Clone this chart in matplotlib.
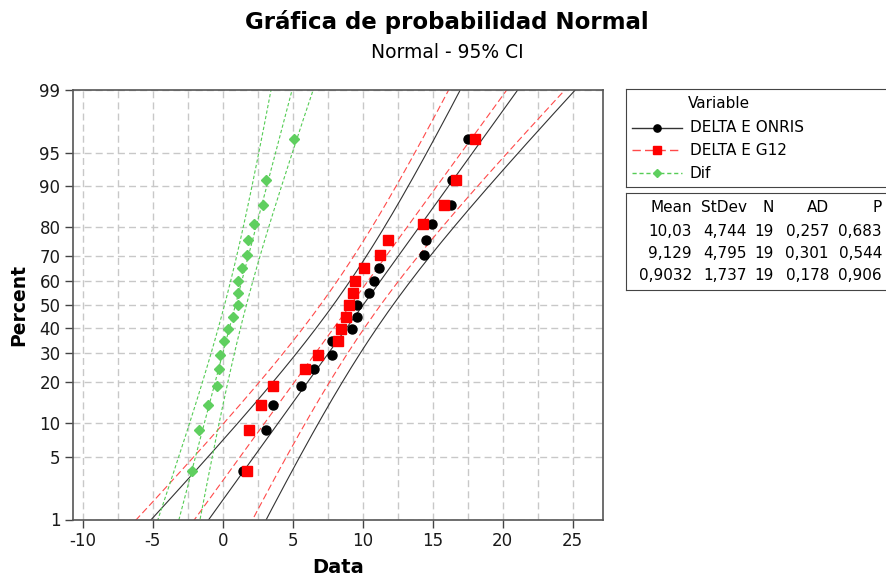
import numpy as np
import matplotlib
matplotlib.use("Agg")
import matplotlib.pyplot as plt
from matplotlib.ticker import FixedLocator, MultipleLocator
from statistics import NormalDist

plt.rcParams['font.family'] = ['DejaVu Sans']

# %% data (sorted values, n = 19 each)
onris = [1.43, 3.09, 3.61, 5.59, 6.48, 7.79, 7.83, 9.21, 9.59, 9.59,
         10.43, 10.81, 11.19, 14.40, 14.54, 14.93, 16.31, 16.36, 17.50]
g12 = [1.74, 1.83, 2.69, 3.61, 5.87, 6.77, 8.21, 8.43, 8.80, 9.02,
       9.29, 9.43, 10.07, 11.26, 11.83, 14.29, 15.83, 16.66, 18.02]
dif = [-2.19, -1.71, -1.03, -0.41, -0.31, -0.19, 0.11, 0.40, 0.71, 1.09,
       1.09, 1.09, 1.36, 1.69, 1.81, 2.19, 2.90, 3.09, 5.07]

names = ['DELTA E ONRIS', 'DELTA E G12', 'Dif']
means = [10.03, 9.129, 0.9032]
stdevs = [4.744, 4.795, 1.737]
ns = [19, 19, 19]
ads = [0.257, 0.301, 0.178]
pvals = [0.683, 0.544, 0.906]

pct_ticks = [1, 5, 10, 20, 30, 40, 50, 60, 70, 80, 90, 95, 99]
x_ticks = [-10, -5, 0, 5, 10, 15, 20, 25]

# %% styles
colors = ['black', '#ff0000', '#5fcf5f']
line_colors = ['#333333', '#ff4a4a', '#55cc55']
markers = ['o', 's', 'D']
msizes = [6.5, 7, 5.5]
dashes = [None, (6, 3), (3, 2)]

nd = NormalDist()
z_of = lambda p: nd.inv_cdf(p)

W, H = 887, 578
fig = plt.figure(figsize=(W / 100, H / 100), dpi=100)
ax = fig.add_axes([73 / W, 1 - 519.5 / H, (603 - 73) / W, (519.5 - 90) / H])

zgrid = np.linspace(-3, 3, 200)
z95 = z_of(0.975)
series = [onris, g12, dif]
for k, vals in enumerate(series):
    vals = np.sort(np.array(vals))
    n = len(vals)
    ranks = np.arange(1, n + 1)
    zp = np.array([z_of(p) for p in (ranks - 0.3) / (n + 0.4)])
    mu, sd = means[k], stdevs[k]
    fit = mu + sd * zgrid
    half = z95 * sd * np.sqrt(1 / ns[k] + zgrid ** 2 / (2 * ns[k]))
    for xx in (fit, fit - half, fit + half):
        ln, = ax.plot(xx, zgrid, color=line_colors[k], lw=0.8, zorder=2)
        if dashes[k] is not None:
            ln.set_dashes(dashes[k])
    ax.plot(vals, zp, linestyle='none', marker=markers[k], ms=msizes[k],
            color=colors[k], mec=colors[k], zorder=3)

ax.set_xlim(-10.71, 27.16)
ax.set_ylim(z_of(0.01), z_of(0.99))
ax.yaxis.set_major_locator(FixedLocator([z_of(p / 100) for p in pct_ticks]))
ax.set_yticklabels([str(p) for p in pct_ticks])
ax.set_xticks(x_ticks)
ax.set_xticklabels([str(t) for t in x_ticks])
ax.xaxis.set_minor_locator(MultipleLocator(2.5))
ax.tick_params(which='minor', length=0)
ax.tick_params(which='major', length=6, width=1, color='#444444',
               labelsize=12, labelcolor='#1a1a1a', direction='out', pad=3)
ax.grid(True, which='both', axis='x', color='#c8c8c8', ls=(0, (5, 3)), lw=1)
ax.grid(True, which='major', axis='y', color='#c8c8c8', ls=(0, (5, 3)), lw=1)
ax.set_axisbelow(True)
for sp in ax.spines.values():
    sp.set_color('#555555')
    sp.set_linewidth(1.2)

ax.set_xlabel('Data', fontsize=14, fontweight='bold', labelpad=6)
ax.set_ylabel('Percent', fontsize=13.5, fontweight='bold', labelpad=8)

fig.text(447 / W, 1 - 22 / H, 'Gráfica de probabilidad Normal', ha='center',
         va='center', fontsize=16.5, fontweight='heavy')
fig.text(447 / W, 1 - 52 / H, 'Normal - 95% CI', ha='center', va='center',
         fontsize=13.5)

# %% legend box
lax = fig.add_axes([626 / W, 1 - 187 / H, 0.33, 98 / H])
lax.set_xlim(626, 626 + 0.33 * W)
lax.set_ylim(187, 89)
lax.set_xticks([])
lax.set_yticks([])
for sp in lax.spines.values():
    sp.set_color('#444444')
lax.text(688, 103, 'Variable', fontsize=11, va='center')
for k, name in enumerate(names):
    yy = 128 + k * 22.5
    ln, = lax.plot([632, 682], [yy, yy], color=line_colors[k], lw=1)
    if dashes[k] is not None:
        ln.set_dashes(dashes[k])
    lax.plot([657], [yy], marker=markers[k], ms=msizes[k] * 0.8,
             color=colors[k], linestyle='none')
    lax.text(690, yy, name, fontsize=11, va='center')

# %% stats table
tax = fig.add_axes([626 / W, 1 - 290 / H, 0.33, 97 / H])
tax.set_xlim(626, 626 + 0.33 * W)
tax.set_ylim(290, 193)
tax.set_xticks([])
tax.set_yticks([])
for sp in tax.spines.values():
    sp.set_color('#444444')

fmt = lambda v: f"{v:.4g}".replace('.', ',')
col_x = [692, 747, 774, 829, 882]
headers = ['Mean', 'StDev', 'N', 'AD', 'P']
for cx, h in zip(col_x, headers):
    tax.text(cx, 208, h, fontsize=11, ha='right', va='center')
for k in range(len(names)):
    yy = 231 + k * 22.5
    row = [fmt(means[k]), fmt(stdevs[k]), str(ns[k]), fmt(ads[k]), fmt(pvals[k])]
    for cx, s in zip(col_x, row):
        tax.text(cx, yy, s, fontsize=11, ha='right', va='center')

fig.savefig('out.png', dpi=100)
